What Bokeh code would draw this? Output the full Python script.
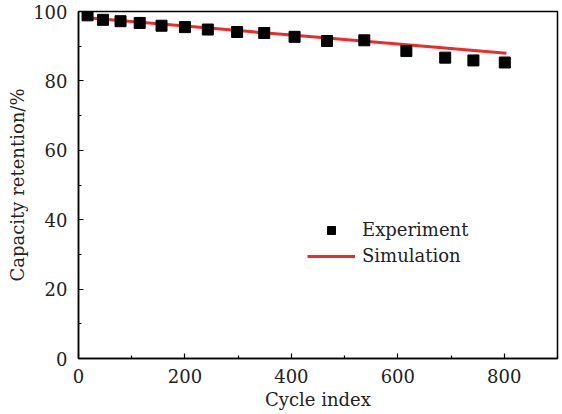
from bokeh.plotting import figure
from bokeh.models import FixedTicker, Legend, LegendItem, Range1d
from bokeh.embed import file_html
from bokeh.resources import INLINE

# Experiment data
exp_cycles = [17, 46, 79, 115, 156, 200, 243, 298, 349, 406, 467, 537, 616, 689, 742, 801]
exp_retention = [98.9, 97.6, 97.2, 96.7, 95.9, 95.5, 94.8, 94.1, 93.8, 92.7, 91.5, 91.7, 88.6, 86.7, 85.9, 85.3]

# Simulation data
sim_cycles = [15, 200, 400, 600, 804]
sim_retention = [98.2, 95.8, 93.2, 90.6, 88.0]

x_ticks = [0, 200, 400, 600, 800]
x_minor = [100, 300, 500, 700, 900]
y_ticks = [0, 20, 40, 60, 80, 100]
y_minor = [10, 30, 50, 70, 90]

FONT = "DejaVu Serif"
FS = "18px"

p = figure(frame_width=479, frame_height=347, output_backend="svg", toolbar_location=None,
           x_range=Range1d(0, 900), y_range=Range1d(0, 100),
           min_border_left=78, min_border_right=4, min_border_top=11, min_border_bottom=52)

p.grid.visible = False
p.outline_line_color = "black"
p.outline_line_width = 1.5
p.background_fill_color = "white"
p.border_fill_color = "white"

p.xaxis.ticker = FixedTicker(ticks=x_ticks, minor_ticks=x_minor)
p.yaxis.ticker = FixedTicker(ticks=y_ticks, minor_ticks=y_minor)
for ax in (p.xaxis, p.yaxis):
    ax.major_tick_in = 5
    ax.major_tick_out = 0
    ax.minor_tick_in = 3
    ax.minor_tick_out = 0
    ax.axis_line_width = 1.5
    ax.major_tick_line_width = 1.2
    ax.minor_tick_line_width = 1.2
    ax.major_label_text_font = FONT
    ax.major_label_text_font_size = FS
    ax.major_label_text_color = "#222222"
    ax.axis_label_text_font = FONT
    ax.axis_label_text_font_size = FS
    ax.axis_label_text_font_style = "normal"
    ax.axis_label_text_color = "#222222"

p.xaxis.axis_label = "Cycle index"
p.yaxis.axis_label = "Capacity retention/%"
p.xaxis.major_label_standoff = 10
p.xaxis.axis_label_standoff = 3
p.yaxis.major_label_standoff = 11
p.yaxis.axis_label_standoff = 2

line = p.line(sim_cycles, sim_retention, line_color="#ee2b2b", line_width=3)
sq = p.scatter(exp_cycles, exp_retention, marker="square", size=11,
               fill_color="black", line_color="black")

legend = Legend(items=[LegendItem(label="Experiment", renderers=[sq]),
                       LegendItem(label="Simulation", renderers=[line])],
                location=(229, 92), orientation="vertical",
                glyph_width=48, glyph_height=20, label_height=20, spacing=5,
                label_standoff=7, padding=0, margin=0,
                border_line_alpha=0, background_fill_alpha=0,
                label_text_font=FONT, label_text_font_size=FS,
                label_text_color="#222222")
p.add_layout(legend)

open("out.html", "w").write(file_html(p, INLINE))
